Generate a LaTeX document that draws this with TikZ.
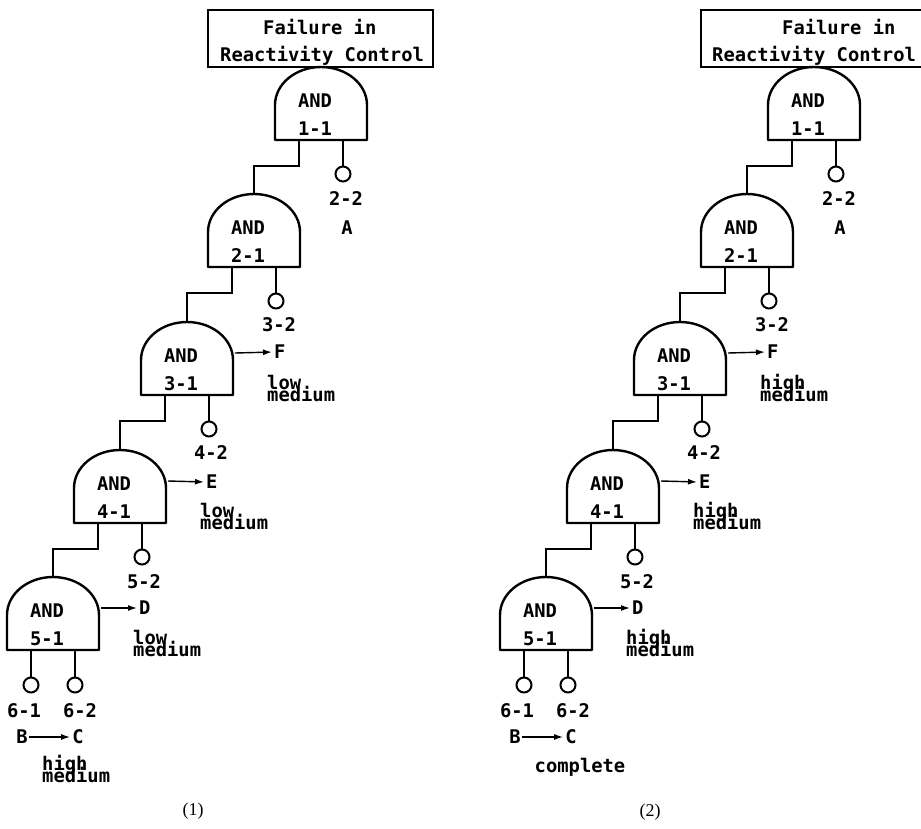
\documentclass[tikz,border=0pt]{standalone}
\usepackage{fontspec}
\setmainfont{Liberation Serif}
\newfontfamily\typ{DejaVu Sans Mono}
\usetikzlibrary{arrows.meta}
\tikzset{
  wire/.style={line width=2pt},
  gateline/.style={line width=2.4pt, line join=round},
  leaf/.style={circle, draw, line width=2pt, minimum size=15pt, inner sep=0pt},
  lbl/.style={font=\typ\bfseries\fontsize{18.8pt}{12pt}\selectfont, inner sep=0pt},
  arr/.style={line width=1.4pt, -{Latex[length=9pt,width=6pt]}, shorten >=2pt},
  topbox/.style={draw, line width=2pt, rectangle, inner sep=0pt},
  capt/.style={font=\fontsize{18pt}{20pt}\selectfont, inner sep=0pt},
  pics/andgate/.style={code={
    \draw[gateline] (-46,73) -- (-46,38) .. controls (-46,17) and (-25.4,0) .. (0,0)
      .. controls (25.4,0) and (46,17) .. (46,38) -- (46,73) -- cycle;
    \coordinate (-top) at (0,0);
    \coordinate (-inl) at (-22,73);
    \coordinate (-inr) at (22,73);
    \coordinate (-out) at (48,31);
    \node[lbl] (-and) at (-6,34) {AND};
    \node[lbl] (-num) at (-6,62) {#1};
  }}
}
\newcommand\drawtree[3]{%
\begin{scope}[xshift=#2pt]
  \pic (#1g1) at (321,67) {andgate=1-1};
  \pic (#1g2) at (254,194) {andgate=2-1};
  \pic (#1g3) at (187,322) {andgate=3-1};
  \pic (#1g4) at (120,450) {andgate=4-1};
  \pic (#1g5) at (53,577) {andgate=5-1};
  \draw[wire] (#1g1-inl) -- ++(0,26) -| (#1g2-top);
  \draw[wire] (#1g2-inl) -- ++(0,26) -| (#1g3-top);
  \draw[wire] (#1g3-inl) -- ++(0,26) -| (#1g4-top);
  \draw[wire] (#1g4-inl) -- ++(0,26) -| (#1g5-top);
  \node[leaf] (#1c22) at (343,174) {};
  \node[leaf] (#1c32) at (276,301) {};
  \node[leaf] (#1c42) at (209,429) {};
  \node[leaf] (#1c52) at (142,557) {};
  \node[leaf] (#1c61) at (31,685) {};
  \node[leaf] (#1c62) at (75,685) {};
  \draw[wire] (#1g1-inr) -- (#1c22);
  \draw[wire] (#1g2-inr) -- (#1c32);
  \draw[wire] (#1g3-inr) -- (#1c42);
  \draw[wire] (#1g4-inr) -- (#1c52);
  \draw[wire] (#1g5-inl) -- (#1c61);
  \draw[wire] (#1g5-inr) -- (#1c62);
  \node[lbl] (#1t22) at (346,199) {2-2};
  \node[lbl] (#1A) at (347,228) {A};
  \node[lbl] (#1t32) at (279,325) {3-2};
  \node[lbl] (#1t42) at (211,453) {4-2};
  \node[lbl] (#1t52) at (144,582) {5-2};
  \node[lbl] (#1t61) at (24,711) {6-1};
  \node[lbl] (#1t62) at (80,711) {6-2};
  \node[lbl, anchor=west] (#1F) at (274,352) {F};
  \node[lbl, anchor=west] (#1E) at (206,482) {E};
  \node[lbl, anchor=west] (#1D) at (139,608) {D};
  \draw[arr] (#1g3-out) -- (#1F.west);
  \draw[arr] (#1g4-out) -- (#1E.west);
  \draw[arr] (#1g5-out) -- (#1D.west);
  \node[lbl, anchor=base west] (#1w3a) at (267,389) {#3};
  \node[lbl, anchor=base west] (#1w3b) at (267,401) {medium};
  \node[lbl, anchor=base west] (#1w4a) at (200,517) {#3};
  \node[lbl, anchor=base west] (#1w4b) at (200,529) {medium};
  \node[lbl, anchor=base west] (#1w5a) at (133,644) {#3};
  \node[lbl, anchor=base west] (#1w5b) at (133,656) {medium};
  \node[lbl] (#1B) at (22,737) {B};
  \node[lbl] (#1C) at (78,737) {C};
  \draw[arr] (#1B.east) ++(1,0) coordinate (#1Bs) (#1Bs) -- (#1C.west);
\end{scope}}
\begin{document}
\begin{tikzpicture}[x=1pt,y=-1pt]
  \clip (0,0) rectangle (921,828);
  \fill[white] (0,0) rectangle (921,828);
  % left tree
  \node[topbox, minimum width=225pt, minimum height=57pt] (boxL) at (320.5,38.5) {};
  \node[lbl, anchor=base west] (fL1) at (263,34) {Failure in};
  \node[lbl, anchor=base west] (fL2) at (220,61) {Reactivity Control};
  \drawtree{L}{0}{low}
  \node[lbl, anchor=base west] (hiL) at (42,770) {high};
  \node[lbl, anchor=base west] (meL) at (42,782) {medium};
  \node[capt] (capL) at (193,811) {(1)};
  % right tree
  \node[topbox, minimum width=239pt, minimum height=57pt] (boxR) at (820.5,38.5) {};
  \node[lbl, anchor=base west] (fR1) at (782,34) {Failure in};
  \node[lbl, anchor=base west] (fR2) at (712,61) {Reactivity Control};
  \drawtree{R}{493}{high}
  \node[lbl, anchor=base] (compR) at (580,772) {complete};
  \node[capt] (capR) at (650,812) {(2)};
\end{tikzpicture}
\end{document}
